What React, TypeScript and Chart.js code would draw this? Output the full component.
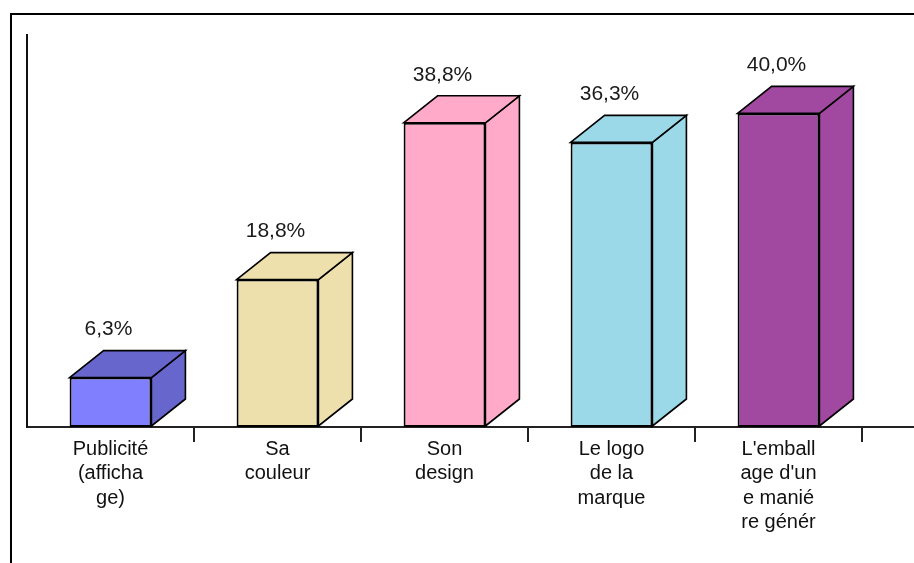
import React, { useEffect, useRef } from 'react';
import { Chart, registerables } from 'chart.js';

Chart.register(...registerables);

// ---- data ----
const categories: string[][] = [
  ['Publicité', '(afficha', 'ge)'],
  ['Sa', 'couleur'],
  ['Son', 'design'],
  ['Le logo', 'de la', 'marque'],
  ["L'emball", "age d'un", 'e manié', 're génér'],
];
const values: number[] = [6.3, 18.8, 38.8, 36.3, 40.0];
const frontColors: string[] = ['#8080FF', '#EEE0AC', '#FFAAC8', '#9BD8E8', '#A148A0'];
const topSideColors: string[] = ['#6666CC', '#EEE0AC', '#FFAAC8', '#9BD8E8', '#A148A0'];
const yMin = 0;
const yMax = 50;

const FONT = "'Liberation Sans', Arial, sans-serif";
const DEPTH_X = 34;
const DEPTH_Y = -27;

const fmt = (v: number) => v.toFixed(1).replace('.', ',') + '%';

const framePlugin = {
  id: 'frame',
  beforeDraw(chart: any) {
    const ctx = chart.ctx;
    ctx.save();
    ctx.fillStyle = '#ffffff';
    ctx.fillRect(0, 0, chart.width, chart.height);
    ctx.strokeStyle = '#000';
    ctx.lineWidth = 2;
    ctx.strokeRect(11, 14, 3000, 3000);
    ctx.restore();
  },
  afterDraw(chart: any) {
    const ctx = chart.ctx;
    const area = chart.chartArea;
    ctx.save();
    ctx.strokeStyle = '#222';
    ctx.lineWidth = 2;
    ctx.beginPath();
    ctx.moveTo(area.right, area.bottom);
    ctx.lineTo(chart.width, area.bottom);
    ctx.stroke();
    ctx.restore();
  },
};

const bar3dPlugin = {
  id: 'bar3d',
  beforeDatasetsDraw(chart: any) {
    const ctx = chart.ctx;
    const meta = chart.getDatasetMeta(0);
    meta.data.forEach((bar: any, i: number) => {
      const { x, y, base, width } = bar.getProps(['x', 'y', 'base', 'width'], true);
      const L = x - width / 2;
      const R = x + width / 2;
      const T = y;
      const B = base - 1;
      ctx.save();
      ctx.fillStyle = topSideColors[i];
      ctx.strokeStyle = '#000';
      ctx.lineWidth = 1.6;
      ctx.lineJoin = 'miter';
      // side face
      ctx.beginPath();
      ctx.moveTo(R, T);
      ctx.lineTo(R + DEPTH_X, T + DEPTH_Y);
      ctx.lineTo(R + DEPTH_X, B + DEPTH_Y);
      ctx.lineTo(R, B);
      ctx.closePath();
      ctx.fill();
      ctx.stroke();
      // top face
      ctx.beginPath();
      ctx.moveTo(L, T);
      ctx.lineTo(L + DEPTH_X, T + DEPTH_Y);
      ctx.lineTo(R + DEPTH_X, T + DEPTH_Y);
      ctx.lineTo(R, T);
      ctx.closePath();
      ctx.fill();
      ctx.stroke();
      ctx.restore();
    });
  },
  afterDatasetsDraw(chart: any) {
    const ctx = chart.ctx;
    const meta = chart.getDatasetMeta(0);
    ctx.save();
    ctx.font = `21px ${FONT}`;
    ctx.fillStyle = '#1a1a1a';
    ctx.textAlign = 'center';
    ctx.textBaseline = 'middle';
    meta.data.forEach((bar: any, i: number) => {
      const { x, y } = bar.getProps(['x', 'y'], true);
      ctx.fillText(fmt(values[i]), x - 2, y - 48);
    });
    ctx.restore();
  },
};

export default function App() {
  const ref = useRef<HTMLCanvasElement | null>(null);

  useEffect(() => {
    if (!ref.current) return;
    const chart = new Chart(ref.current, {
      type: 'bar',
      data: {
        labels: categories,
        datasets: [
          {
            data: values,
            backgroundColor: frontColors,
            borderColor: '#000',
            borderWidth: 2,
            borderSkipped: false,
            barPercentage: 0.49,
            categoryPercentage: 1.0,
          },
        ],
      },
      options: {
        responsive: false,
        animation: false,
        devicePixelRatio: 1,
        layout: { padding: { left: 27, top: 35, right: 52, bottom: 0 } },
        plugins: {
          legend: { display: false },
          tooltip: { enabled: false },
          title: { display: false },
        },
        scales: {
          x: {
            offset: true,
            afterFit: (scale: any) => {
              scale.height = 136;
            },
            grid: {
              offset: true,
              drawOnChartArea: false,
              drawTicks: true,
              tickLength: 15,
              lineWidth: 2,
              color: (c: any) => (c.index === 0 ? 'rgba(0,0,0,0)' : '#222'),
            },
            border: { display: true, color: '#222', width: 2 },
            ticks: {
              padding: -5,
              maxRotation: 0,
              autoSkip: false,
              color: '#111',
              font: { family: FONT, size: 20, lineHeight: 1.225 },
            },
          },
          y: {
            min: yMin,
            max: yMax,
            afterFit: (scale: any) => {
              scale.width = 0;
            },
            grid: { display: false, drawTicks: false },
            border: { display: true, color: '#111', width: 2 },
            ticks: { display: false },
          },
        },
      },
      plugins: [framePlugin, bar3dPlugin],
    });
    return () => chart.destroy();
  }, []);

  return (
    <div style={{ position: 'fixed', left: 0, top: 0, width: 914, height: 563, background: '#fff' }}>
      <canvas ref={ref} width={914} height={563} style={{ display: 'block', width: 914, height: 563 }} />
    </div>
  );
}
